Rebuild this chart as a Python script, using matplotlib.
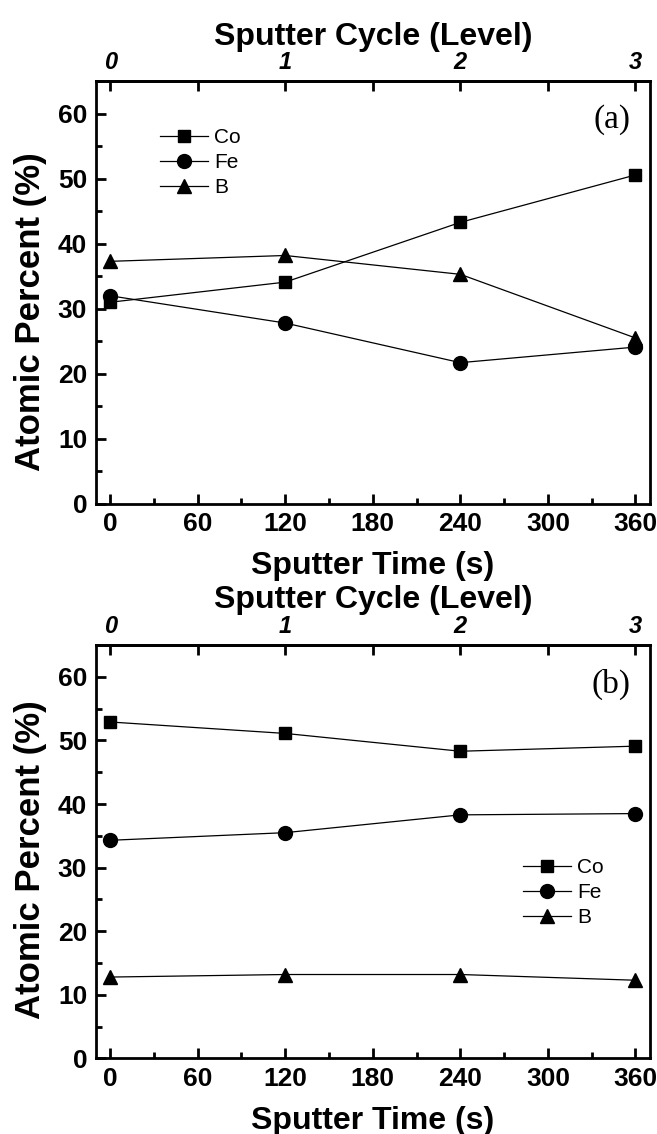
import matplotlib.pyplot as plt
import numpy as np

# sputter time (s) and cycle level
tempo = [0, 120, 240, 360]
ciclos = [0, 1, 2, 3]

# (a)
co_a = [31.0, 34.1, 43.3, 50.6]
fe_a = [32.0, 27.8, 21.7, 24.1]
b_a = [37.3, 38.2, 35.3, 25.5]

# (b)
co_b = [52.9, 51.1, 48.3, 49.1]
fe_b = [34.3, 35.5, 38.3, 38.5]
b_b = [12.8, 13.2, 13.2, 12.3]

plt.rcParams['font.family'] = ['Liberation Sans', 'DejaVu Sans']
plt.rcParams['axes.linewidth'] = 2.0

fig = plt.figure(figsize=(6.57, 11.34), dpi=100)
ax_a = fig.add_axes([0.1454, 0.5559, 0.844, 0.3723])
ax_b = fig.add_axes([0.1454, 0.0666, 0.844, 0.3646])


def painel(ax, co, fe, b, letra, leg_pos, ylab_y, letra_y):
    ax.plot(tempo, co, color='black', lw=0.9, marker='s', ms=9, label='Co')
    ax.plot(tempo, fe, color='black', lw=0.9, marker='o', ms=10, label='Fe')
    ax.plot(tempo, b, color='black', lw=0.9, marker='^', ms=10.5, label='B')

    ax.set_xlim(-10, 370)
    ax.set_ylim(0, 65)
    ax.set_xticks(np.arange(0, 361, 60))
    ax.set_xticks(np.arange(30, 361, 60), minor=True)
    ax.set_yticks(np.arange(0, 61, 10))
    ax.set_yticks(np.arange(5, 61, 10), minor=True)
    ax.tick_params(which='both', direction='in', width=2.0,
                   top=False, right=False)
    ax.tick_params(which='major', length=7, labelsize=19, pad=6)
    ax.tick_params(which='minor', length=4)
    for lbl in ax.get_xticklabels() + ax.get_yticklabels():
        lbl.set_fontweight('bold')

    ax.set_xlabel('Sputter Time (s)', fontsize=23, fontweight='bold', labelpad=11)
    ax.set_ylabel('Atomic Percent (%)', fontsize=25, fontweight='bold')
    ax.yaxis.set_label_coords(-0.088, ylab_y)

    sec = ax.secondary_xaxis('top', functions=(lambda t: t / 120, lambda c: c * 120))
    sec.set_xticks(ciclos)
    sec.set_xticks([0.5, 1.5, 2.5], minor=True)
    sec.tick_params(which='both', direction='in', width=2.0, length=7,
                    labelsize=17, pad=5)
    for lbl in sec.get_xticklabels():
        lbl.set_fontweight('bold')
        lbl.set_fontstyle('italic')
    sec.set_xlabel('Sputter Cycle (Level)', fontsize=23, fontweight='bold', labelpad=5)

    ax.text(0.964, letra_y, letra, transform=ax.transAxes, ha='right', va='center',
            fontsize=24, family='Liberation Serif')

    ax.legend(loc='upper left', bbox_to_anchor=leg_pos, frameon=False,
              fontsize=15, handlelength=2.3, handletextpad=0.3,
              labelspacing=0.3, borderaxespad=0, borderpad=0)


painel(ax_a, co_a, fe_a, b_a, '(a)', (0.116, 0.89), 0.454, 0.91)
painel(ax_b, co_b, fe_b, b_b, '(b)', (0.771, 0.485), 0.48, 0.905)

fig.savefig('out.png', dpi=100)
